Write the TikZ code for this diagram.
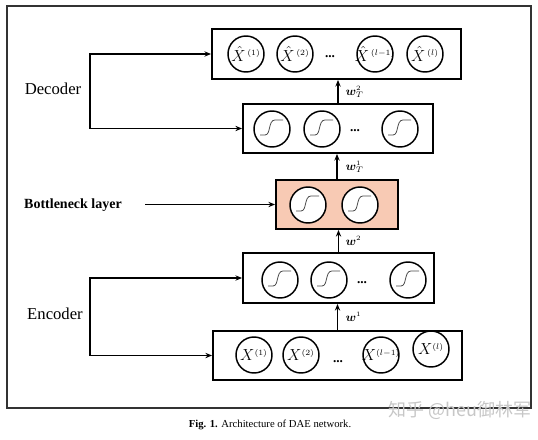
\documentclass[tikz,border=0pt]{standalone}
\usepackage{fontspec}
\setmainfont{Liberation Serif}
\newfontfamily\cjk{Noto Sans CJK SC}
\usepackage{bm}
\usetikzlibrary{arrows.meta}
\definecolor{peach}{RGB}{248,202,180}
\begin{document}
\begin{tikzpicture}[x=0.75pt,y=-0.75pt,
 layerbox/.style={draw, line width=1.4pt, inner sep=0pt, rectangle},
 unit/.style={draw, circle, line width=1.1pt, minimum size=27pt, inner sep=0pt, fill=white},
 xl/.style={inner sep=0pt, font=\fontsize{11.5}{12}\selectfont},
 arr/.style={-{Stealth[length=5pt,width=4pt]}, line width=0.9pt},
 wlab/.style={font=\small, anchor=west, inner sep=1pt},
 sigm/.pic={\draw[black!70, line width=0.6pt] (-12,6) -- (-7,6) .. controls (-1,6) and (-4,-9) .. (3,-9) -- (11,-9);},
 side/.style={font=\fontsize{12.5}{14}\selectfont},
 dots/.style={font=\bfseries}
]
\useasboundingbox (0,0) rectangle (538,439);
\draw[line width=1.2pt, black!80] (7,6) rectangle (531,408);

% layers
\node[layerbox, minimum width=186.75pt, minimum height=37.5pt] (L5) at (336.5,54) {};
\node[layerbox, minimum width=142.5pt, minimum height=36.75pt] (L4) at (338,128.5) {};
\node[layerbox, fill=peach, minimum width=91.5pt, minimum height=36.75pt] (L3) at (337,204.5) {};
\node[layerbox, minimum width=143.25pt, minimum height=37.5pt] (L2) at (338.5,278) {};
\node[layerbox, minimum width=186.75pt, minimum height=36.75pt] (L1) at (337.5,355.5) {};

% top layer units
\node[unit] (t1) at (246,54) {};
\node[xl] (t1x) at (t1.center) {$\hat{X}\mkern2mu{}^{\scriptscriptstyle(1)}$};
\node[unit] (t2) at (295,54) {};
\node[xl] (t2x) at (t2.center) {$\hat{X}\mkern2mu{}^{\scriptscriptstyle(2)}$};
\node[dots] (td) at (330,57) {...};
\node[unit] (t3) at (375,54) {};
\node[xl] (t3x) at (t3.center) {$\hat{X}\mkern2mu{}^{\scriptscriptstyle(l-1)}$};
\node[unit] (t4) at (425,54) {};
\node[xl] (t4x) at (t4.center) {$\hat{X}\mkern2mu{}^{\scriptscriptstyle(l)}$};

% decoder hidden
\node[unit] (d1) at (272,129) {}; \pic at (d1.center) {sigm};
\node[unit] (d2) at (322,129) {}; \pic at (d2.center) {sigm};
\node[dots] (dd) at (355,131) {...};
\node[unit] (d3) at (400,129) {}; \pic at (d3.center) {sigm};

% bottleneck
\node[unit] (b1) at (308,205) {}; \pic at (b1.center) {sigm};
\node[unit] (b2) at (360,205) {}; \pic at (b2.center) {sigm};

% encoder hidden
\node[unit] (e1) at (280,280) {}; \pic at (e1.center) {sigm};
\node[unit] (e2) at (329,280) {}; \pic at (e2.center) {sigm};
\node[dots] (ed) at (362,283) {...};
\node[unit] (e3) at (408,280) {}; \pic at (e3.center) {sigm};

% input units
\node[unit] (i1) at (254,355) {};
\node[xl] (i1x) at (i1.center) {$X^{\scriptscriptstyle(1)}$};
\node[unit] (i2) at (301,355) {};
\node[xl] (i2x) at (i2.center) {$X^{\scriptscriptstyle(2)}$};
\node[dots] (id) at (338,362) {...};
\node[unit] (i3) at (381,355) {};
\node[xl] (i3x) at (i3.center) {$X^{\scriptscriptstyle(l-1)}$};
\node[unit] (i4) at (431,349) {};
\node[xl] (i4x) at (i4.center) {$X^{\scriptscriptstyle(l)}$};

% vertical arrows
\draw[arr] (L1.north) -- (L1.north |- L2.south);
\draw[arr] (L2.north) -- (L2.north |- L3.south);
\draw[arr] (L3.north) -- (L3.north |- L4.south);
\draw[arr] (L4.north) -- (L4.north |- L5.south);
\node[wlab] (w1) at (344,317) {$\bm{w}^{\scriptscriptstyle 1}$};
\node[wlab] (w2) at (344,241) {$\bm{w}^{\scriptscriptstyle 2}$};
\node[wlab] (w3) at (344,167) {$\bm{w}_T^{\scriptscriptstyle 1}$};
\node[wlab] (w4) at (344,92) {$\bm{w}_T^{\scriptscriptstyle 2}$};

% side brackets
\coordinate (dl) at (90,91);
\draw[arr] (dl) |- (L5.west);
\draw[arr] (dl) |- (L4.west);
\node[side] (dec) at (53,89) {Decoder};
\coordinate (el) at (90,316);
\draw[arr] (el) |- (L2.west);
\draw[arr] (el) |- (L1.west);
\node[side] (enc) at (55,314) {Encoder};

% bottleneck label
\node[font=\fontsize{10.5}{12}\selectfont\bfseries] (bn) at (73,205) {Bottleneck layer};
\coordinate (bs) at (145,204.5);
\draw[arr] (bs) -- (L3.west);

% caption
\node (cap) at (270,425) {\fontsize{8}{9}\selectfont\textbf{Fig. 1.} Architecture of DAE network.};
\node[text=black!22] (wm) at (460,410) {\cjk\fontsize{13.5}{14}\selectfont 知乎 @heu御林军};
\end{tikzpicture}
\end{document}
